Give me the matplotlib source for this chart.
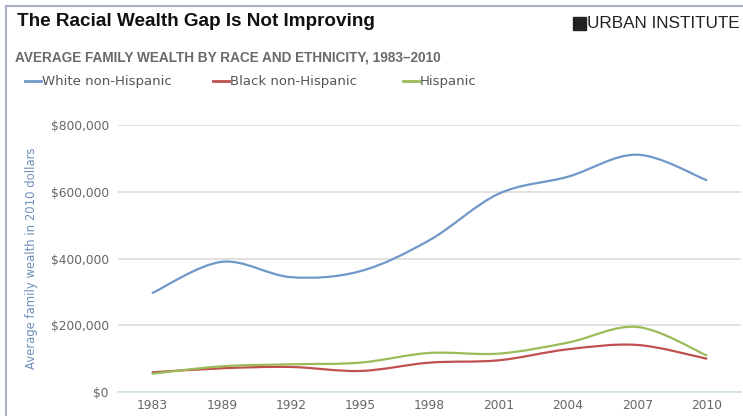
import matplotlib.pyplot as plt
from matplotlib.path import Path
from matplotlib.patches import PathPatch, Rectangle
from matplotlib.lines import Line2D
from matplotlib.ticker import FuncFormatter

years = ['1983', '1989', '1992', '1995', '1998', '2001', '2004', '2007', '2010']
white = [297000, 390000, 344000, 362000, 455000, 594000, 645000, 711000, 635000]
black = [59000, 71000, 75000, 63000, 88000, 95000, 128000, 141000, 100000]
hispanic = [55000, 77000, 83000, 88000, 117000, 115000, 148000, 195000, 110000]

series = [
    ('White non-Hispanic', white, '#6f98c8'),
    ('Black non-Hispanic', black, '#c0504d'),
    ('Hispanic', hispanic, '#9bbb59'),
]

W, H = 743, 416


def fx(px):
    return px / W


def fy(py):
    return 1 - py / H


def smooth_path(xs, ys):
    # cubic bezier through every point (Excel-style smoothed line)
    n = len(xs)
    verts = [(xs[0], ys[0])]
    codes = [Path.MOVETO]
    for i in range(n - 1):
        x0, y0 = xs[max(i - 1, 0)], ys[max(i - 1, 0)]
        x1, y1 = xs[i], ys[i]
        x2, y2 = xs[i + 1], ys[i + 1]
        x3, y3 = xs[min(i + 2, n - 1)], ys[min(i + 2, n - 1)]
        c1 = (x1 + (x2 - x0) / 6, y1 + (y2 - y0) / 6)
        c2 = (x2 - (x3 - x1) / 6, y2 - (y3 - y1) / 6)
        verts += [c1, c2, (x2, y2)]
        codes += [Path.CURVE4] * 3
    return Path(verts, codes)


plt.rcParams['font.family'] = ['Liberation Sans', 'DejaVu Sans']

fig = plt.figure(figsize=(W / 100, H / 100), dpi=100)
ax = fig.add_axes([fx(118), fy(392), fx(741) - fx(118), fy(125) - fy(392)])

xpos = list(range(len(years)))
for name, vals, color in series:
    ax.add_patch(PathPatch(smooth_path(xpos, vals), facecolor='none',
                           edgecolor=color, lw=1.6, capstyle='round', zorder=3))

ax.set_xlim(-0.5, 8.5)
ax.set_ylim(0, 800000)
ax.set_yticks([0, 200000, 400000, 600000, 800000])
ax.yaxis.set_major_formatter(FuncFormatter(lambda v, p: '${:,.0f}'.format(v)))
ax.set_xticks(xpos)
ax.set_xticklabels(years)
ax.tick_params(axis='both', length=0, labelsize=8.8, labelcolor='#666666')
ax.tick_params(axis='y', pad=6.5)
ax.tick_params(axis='x', pad=5)
ax.grid(axis='y', color='#dcdcdc', lw=1.2)
ax.set_axisbelow(True)
for s in ['top', 'right', 'left']:
    ax.spines[s].set_visible(False)
ax.spines['bottom'].set_color('#cfe0ec')
ax.spines['bottom'].set_linewidth(1.2)
for lbl in ax.get_yticklabels() + ax.get_xticklabels():
    lbl.set_family(['DejaVu Sans'])
ax.set_ylabel('Average family wealth in 2010 dollars', fontsize=8.4,
              color='#6f8fb8', family=['DejaVu Sans'])
ax.yaxis.set_label_coords((fx(38) - fx(118)) / (fx(741) - fx(118)), 0.5)

# outer frame (left and top edges visible)
fig.add_artist(Line2D([fx(6), fx(6)], [fy(6), 0], color='#a9afc6', lw=1.5))
fig.add_artist(Line2D([fx(6), fx(742)], [fy(6), fy(6)], color='#a9afc6', lw=1.5))

fig.text(fx(17), fy(22), 'The Racial Wealth Gap Is Not Improving', fontsize=13.6,
         fontweight='bold', color='#111111', va='center', ha='left')
fig.add_artist(Rectangle((fx(573), fy(30)), fx(13), fy(17) - fy(30), color='#222222'))
fig.text(fx(587), fy(24), 'URBAN INSTITUTE', fontsize=12.3, color='#222222',
         va='center', ha='left')
fig.text(fx(15), fy(57), 'AVERAGE FAMILY WEALTH BY RACE AND ETHNICITY, 1983\u20132010',
         fontsize=9.8, fontweight='bold', color='#6a6a6a', va='center', ha='left')

leg_x = [25, 213, 403]
for (name, vals, color), lx in zip(series, leg_x):
    fig.add_artist(Line2D([fx(lx), fx(lx + 16)], [fy(81), fy(81)], color=color, lw=2))
    fig.text(fx(lx + 17), fy(81), name, fontsize=9.5, color='#555555',
             va='center', ha='left', family=['DejaVu Sans'])

fig.savefig('out.png', dpi=100)
